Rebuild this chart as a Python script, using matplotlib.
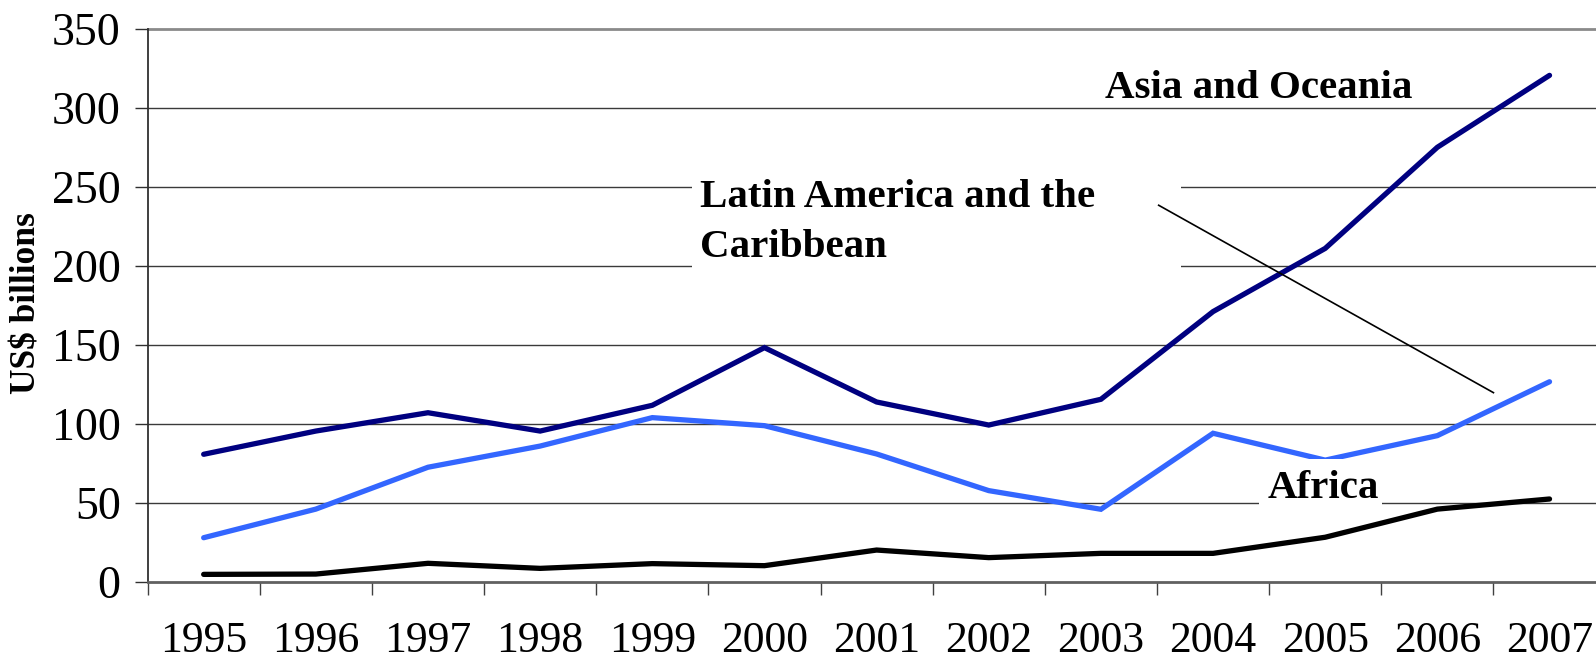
import matplotlib
matplotlib.use("Agg")
import matplotlib.pyplot as plt
from matplotlib.patches import Rectangle
import numpy as np

years = ["1995", "1996", "1997", "1998", "1999", "2000", "2001",
         "2002", "2003", "2004", "2005", "2006", "2007"]
asia_oceania = [80.7, 95.4, 107, 95.4, 111.7, 148.2, 113.8, 99.2, 115.5, 171, 211, 275, 320.5]
latin_america = [27.9, 46, 72.5, 85.9, 103.9, 98.8, 80.9, 57.7, 45.9, 94, 77, 92.5, 126.6]
africa = [4.7, 4.9, 11.7, 8.5, 11.5, 10.2, 20.1, 15.3, 18, 18, 28.2, 46, 52.4]
yticks = [0, 50, 100, 150, 200, 250, 300, 350]

plt.rcParams['font.family'] = ['Liberation Serif', 'DejaVu Serif']

W, H = 1596, 663
fig = plt.figure(figsize=(W / 100, H / 100), dpi=100)
# axes extends slightly beyond the right edge of the figure (as in the reference)
left_px, right_px, top_px, bottom_px = 147.6, 1605.6, 28.75, 581.8
ax = fig.add_axes([left_px / W, 1 - bottom_px / H,
                   (right_px - left_px) / W, (bottom_px - top_px) / H])

n = len(years)
x = np.arange(n) + 0.5

ax.set_xlim(0, n)
ax.set_ylim(0, 350)

# gridlines
for v in yticks[1:-1]:
    ax.axhline(v, color='#3a3a3a', lw=1.0, zorder=1)
ax.axhline(350, color='#8a8a8a', lw=2.0, zorder=1, clip_on=False)

ax.plot(x, africa, color='black', lw=3.8, zorder=3, solid_capstyle='round', solid_joinstyle='miter')
ax.plot(x, latin_america, color='#3366FF', lw=3.8, zorder=3, solid_capstyle='round', solid_joinstyle='miter')
ax.plot(x, asia_oceania, color='#000080', lw=3.8, zorder=3, solid_capstyle='round', solid_joinstyle='miter')

# spines
for s in ['top', 'right']:
    ax.spines[s].set_visible(False)
ax.spines['left'].set_color('#303030')
ax.spines['left'].set_linewidth(1.3)
ax.spines['bottom'].set_color('#606060')
ax.spines['bottom'].set_linewidth(2.0)
ax.spines['left'].set_zorder(4)
ax.spines['bottom'].set_zorder(4)

# ticks
ax.set_yticks(yticks)
ax.set_yticklabels([str(v) for v in yticks])
ax.tick_params(axis='y', direction='out', length=9.4, width=1.0, color='#303030',
               labelsize=33, pad=10)
ax.set_xticks(np.arange(n + 1))
ax.set_xticklabels([])
ax.tick_params(axis='x', which='major', direction='out', length=9.4, width=1.0,
               color='#404040')
ax.set_xticks(x, minor=True)
ax.set_xticklabels(years, minor=True)
ax.tick_params(axis='x', which='minor', length=0, labelsize=31.5, pad=28)

fig.text(26.7 / W, 1 - 303 / H, "US$ billions", rotation=90, ha='center',
         va='center', fontsize=25.5, fontweight='bold')

# label boxes (white, hiding gridlines)
ax.add_patch(Rectangle((4.856, 190), 9.215 - 4.856, 72, facecolor='white',
                       edgecolor='none', zorder=2))
ax.add_patch(Rectangle((9.91, 42.3), 11.007 - 9.91, 77.7 - 42.3, facecolor='white',
                       edgecolor='none', zorder=3.5))

lbl = dict(fontsize=29.5, fontweight='bold', va='baseline', ha='left', zorder=5)
ax.text(8.533, 306.0, "Asia and Oceania", **lbl)
ax.text(4.929, 237.4, "Latin America and the", **lbl)
ax.text(4.929, 205.4, "Caribbean", **lbl)
ax.text(9.99, 53.0, "Africa", **lbl)

# leader line for Latin America label
ax.plot([9.015, 12.0], [238.3, 119.7], color='black', lw=1.2, zorder=4)

fig.savefig("out.png", dpi=100)
